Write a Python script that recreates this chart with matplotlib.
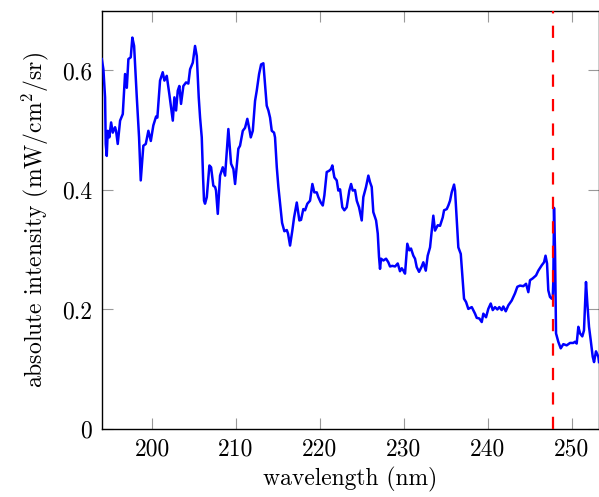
import matplotlib
matplotlib.use("Agg")
import matplotlib.pyplot as plt

plt.rcParams['font.family'] = ['cmr10', 'DejaVu Serif']
plt.rcParams['mathtext.fontset'] = 'cm'
plt.rcParams['axes.unicode_minus'] = False
plt.rcParams['axes.formatter.use_mathtext'] = True

wavelength = [
    194.01, 194.20, 194.40, 194.48, 194.60, 194.72, 194.91, 195.12, 195.32, 195.59,
    195.71, 195.91, 196.19, 196.51, 196.78, 196.99, 197.18, 197.46, 197.65, 197.86,
    198.18, 198.45, 198.65, 198.96, 199.25, 199.56, 199.85, 200.15, 200.48, 200.63,
    200.95, 201.27, 201.47, 201.75, 202.06, 202.47, 202.66, 202.86, 203.06, 203.25,
    203.45, 203.73, 204.05, 204.32, 204.53, 204.85, 205.12, 205.33, 205.56, 205.72,
    205.92, 206.08, 206.19, 206.31, 206.52, 206.83, 207.03, 207.30, 207.51, 207.62,
    207.83, 208.10, 208.42, 208.70, 209.09, 209.41, 209.69, 209.89, 210.28, 210.48,
    210.81, 211.08, 211.35, 211.59, 211.76, 212.00, 212.27, 212.47, 212.75, 212.99,
    213.26, 213.46, 213.66, 213.86, 214.06, 214.26, 214.53, 214.65, 214.86, 215.05,
    215.33, 215.49, 215.76, 216.05, 216.20, 216.44, 216.71, 216.92, 217.24, 217.55,
    217.75, 218.02, 218.23, 218.50, 218.82, 219.10, 219.33, 219.62, 219.81, 220.10,
    220.34, 220.53, 220.81, 221.09, 221.32, 221.48, 221.72, 222.00, 222.19, 222.40,
    222.67, 222.91, 223.19, 223.50, 223.71, 223.91, 224.18, 224.39, 224.66, 224.98,
    225.17, 225.49, 225.77, 225.97, 226.17, 226.36, 226.69, 226.89, 227.04, 227.16,
    227.28, 227.56, 227.88, 228.15, 228.35, 228.63, 228.95, 229.27, 229.54, 229.75,
    229.94, 230.14, 230.41, 230.65, 230.85, 231.13, 231.33, 231.53, 231.81, 232.13,
    232.32, 232.61, 232.84, 233.12, 233.32, 233.51, 233.71, 234.04, 234.31, 234.63,
    234.79, 235.11, 235.30, 235.50, 235.70, 235.98, 236.10, 236.30, 236.49, 236.78,
    237.01, 237.17, 237.41, 237.68, 238.09, 238.48, 238.68, 238.99, 239.28, 239.47,
    239.79, 240.06, 240.35, 240.59, 240.86, 241.14, 241.37, 241.66, 241.85, 242.14,
    242.45, 242.85, 243.24, 243.52, 243.84, 244.23, 244.56, 244.83, 245.03, 245.35,
    245.75, 246.02, 246.43, 246.70, 246.88, 247.06, 247.21, 247.41, 247.62, 247.74,
    247.81, 247.89, 248.01, 248.13, 248.40, 248.69, 249.00, 249.40, 249.80, 250.19,
    250.39, 250.59, 250.79, 250.99, 251.26, 251.46, 251.70, 251.86, 252.06, 252.26,
    252.50, 252.66, 252.89, 253.17, 253.25,
]

intensity = [
    0.619, 0.602, 0.555, 0.477, 0.457, 0.499, 0.488, 0.513, 0.496, 0.505,
    0.499, 0.477, 0.516, 0.527, 0.594, 0.571, 0.619, 0.622, 0.655, 0.641,
    0.555, 0.488, 0.416, 0.474, 0.477, 0.499, 0.482, 0.508, 0.523, 0.521,
    0.583, 0.597, 0.583, 0.591, 0.560, 0.516, 0.555, 0.533, 0.566, 0.574,
    0.544, 0.574, 0.580, 0.578, 0.602, 0.613, 0.641, 0.624, 0.555, 0.521,
    0.488, 0.420, 0.382, 0.377, 0.388, 0.441, 0.438, 0.407, 0.405, 0.399,
    0.360, 0.424, 0.438, 0.424, 0.502, 0.444, 0.435, 0.410, 0.469, 0.474,
    0.499, 0.504, 0.519, 0.502, 0.488, 0.499, 0.549, 0.566, 0.594, 0.610,
    0.612, 0.577, 0.541, 0.533, 0.521, 0.499, 0.496, 0.488, 0.438, 0.405,
    0.366, 0.345, 0.331, 0.333, 0.327, 0.307, 0.332, 0.354, 0.379, 0.349,
    0.350, 0.368, 0.366, 0.377, 0.382, 0.410, 0.396, 0.396, 0.388, 0.379,
    0.374, 0.391, 0.430, 0.432, 0.435, 0.441, 0.421, 0.416, 0.399, 0.401,
    0.371, 0.366, 0.371, 0.399, 0.410, 0.399, 0.400, 0.382, 0.371, 0.349,
    0.388, 0.405, 0.424, 0.413, 0.405, 0.363, 0.349, 0.327, 0.288, 0.268,
    0.285, 0.282, 0.285, 0.279, 0.272, 0.273, 0.272, 0.277, 0.264, 0.269,
    0.265, 0.260, 0.310, 0.299, 0.302, 0.290, 0.285, 0.271, 0.263, 0.272,
    0.279, 0.265, 0.290, 0.304, 0.332, 0.357, 0.332, 0.341, 0.340, 0.354,
    0.366, 0.368, 0.374, 0.382, 0.396, 0.409, 0.399, 0.349, 0.304, 0.293,
    0.249, 0.218, 0.2125, 0.201, 0.204, 0.193, 0.186, 0.185, 0.179, 0.193,
    0.187, 0.201, 0.210, 0.199, 0.204, 0.200, 0.204, 0.199, 0.205, 0.197,
    0.207, 0.215, 0.227, 0.238, 0.240, 0.239, 0.243, 0.229, 0.249, 0.252,
    0.257, 0.265, 0.274, 0.279, 0.290, 0.277, 0.232, 0.221, 0.218, 0.220,
    0.250, 0.370, 0.300, 0.160, 0.146, 0.135, 0.142, 0.140, 0.144, 0.144,
    0.146, 0.143, 0.171, 0.160, 0.155, 0.165, 0.246, 0.210, 0.171, 0.149,
    0.121, 0.112, 0.130, 0.121, 0.112,
]

laser_line = 247.8
x_ticks = [200, 210, 220, 230, 240, 250]
y_ticks = [0, 0.2, 0.4, 0.6]
y_tick_labels = ['0', '0.2', '0.4', '0.6']

fig = plt.figure(figsize=(5.99, 4.97), dpi=100)
ax = fig.add_axes([0.1698, 0.1368, 0.8302, 0.8417])

ax.plot(wavelength, intensity, color='#0000ff', linewidth=1.8, zorder=3)
vl = ax.axvline(laser_line, color='#ff0000', linewidth=1.6, zorder=4)
vl.set_dashes([5.5, 5.5])

ax.set_xlim(194.0, 253.25)
ax.set_ylim(0, 0.7)
ax.set_xticks(x_ticks)
ax.set_xticklabels([str(t) for t in x_ticks])
ax.set_yticks(y_ticks)
ax.set_yticklabels(y_tick_labels)

ax.tick_params(direction='in', length=8, width=0.8, color='#999999',
               top=True, right=True, labelsize=17, pad=7)
for s in ax.spines.values():
    s.set_linewidth(1.0)
    s.set_color('black')

ax.set_xlabel('wavelength (nm)', fontsize=17, labelpad=4)
ax.set_ylabel('absolute intensity (mW/cm$^2$/sr)', fontsize=17, labelpad=8)

fig.savefig('out.png', dpi=100)
